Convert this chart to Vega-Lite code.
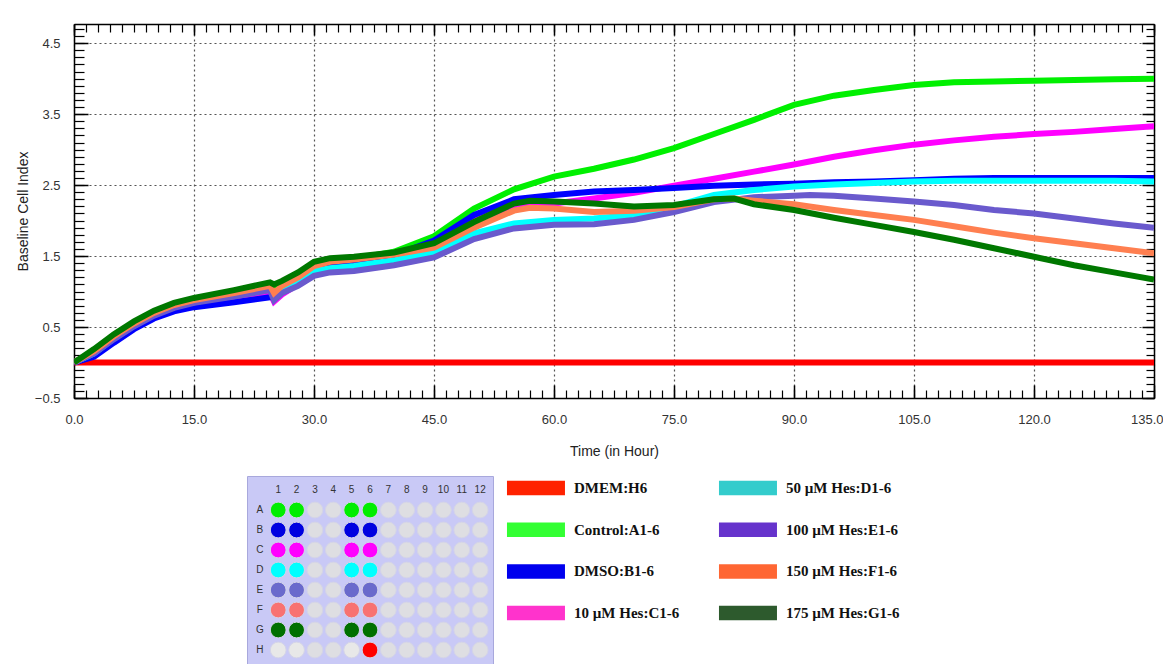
{
  "$schema": "https://vega.github.io/schema/vega-lite/v6.json",
  "background": "white",
  "padding": {"left": 16, "top": 23, "right": 0, "bottom": 0},
  "autosize": {"type": "pad"},
  "config": {"view": {"stroke": null}, "font": "Liberation Sans", "axis": {"labelFont": "Liberation Sans", "titleFont": "Liberation Sans"}},
  "spacing": 17,
  "resolve": {"scale": {"color": "independent"}},
  "vconcat": [
    {
      "width": 1080,
      "height": 374,
      "data": {"values": [
        {"s":"DMEM","t":0,"v":0},{"s":"DMEM","t":45,"v":0},{"s":"DMEM","t":90,"v":0},{"s":"DMEM","t":135,"v":0},
        {"s":"Control","t":0,"v":0},{"s":"Control","t":2.5,"v":0.15},{"s":"Control","t":5,"v":0.36},{"s":"Control","t":7.5,"v":0.54},{"s":"Control","t":10,"v":0.69},{"s":"Control","t":12.5,"v":0.8},{"s":"Control","t":15,"v":0.87},{"s":"Control","t":20,"v":0.97},{"s":"Control","t":24.5,"v":1.07},{"s":"Control","t":25,"v":1.02},{"s":"Control","t":26,"v":1.1},{"s":"Control","t":28,"v":1.22},{"s":"Control","t":30,"v":1.38},{"s":"Control","t":32,"v":1.43},{"s":"Control","t":35,"v":1.46},{"s":"Control","t":40,"v":1.56},{"s":"Control","t":45,"v":1.78},{"s":"Control","t":50,"v":2.17},{"s":"Control","t":55,"v":2.44},{"s":"Control","t":60,"v":2.62},{"s":"Control","t":65,"v":2.73},{"s":"Control","t":70,"v":2.86},{"s":"Control","t":75,"v":3.02},{"s":"Control","t":80,"v":3.22},{"s":"Control","t":85,"v":3.42},{"s":"Control","t":90,"v":3.63},{"s":"Control","t":95,"v":3.76},{"s":"Control","t":100,"v":3.84},{"s":"Control","t":105,"v":3.91},{"s":"Control","t":110,"v":3.95},{"s":"Control","t":115,"v":3.96},{"s":"Control","t":120,"v":3.97},{"s":"Control","t":125,"v":3.98},{"s":"Control","t":130,"v":3.99},{"s":"Control","t":135,"v":4.0},
        {"s":"10","t":0,"v":0},{"s":"10","t":2.5,"v":0.12},{"s":"10","t":5,"v":0.32},{"s":"10","t":7.5,"v":0.5},{"s":"10","t":10,"v":0.65},{"s":"10","t":12.5,"v":0.76},{"s":"10","t":15,"v":0.82},{"s":"10","t":20,"v":0.9},{"s":"10","t":24.5,"v":0.98},{"s":"10","t":25,"v":0.86},{"s":"10","t":26,"v":0.96},{"s":"10","t":28,"v":1.1},{"s":"10","t":30,"v":1.32},{"s":"10","t":32,"v":1.38},{"s":"10","t":35,"v":1.41},{"s":"10","t":40,"v":1.5},{"s":"10","t":45,"v":1.68},{"s":"10","t":50,"v":2.02},{"s":"10","t":55,"v":2.18},{"s":"10","t":60,"v":2.24},{"s":"10","t":65,"v":2.31},{"s":"10","t":70,"v":2.39},{"s":"10","t":75,"v":2.49},{"s":"10","t":80,"v":2.59},{"s":"10","t":85,"v":2.69},{"s":"10","t":90,"v":2.79},{"s":"10","t":95,"v":2.9},{"s":"10","t":100,"v":2.99},{"s":"10","t":105,"v":3.07},{"s":"10","t":110,"v":3.13},{"s":"10","t":115,"v":3.18},{"s":"10","t":120,"v":3.22},{"s":"10","t":125,"v":3.25},{"s":"10","t":130,"v":3.29},{"s":"10","t":135,"v":3.33},
        {"s":"DMSO","t":0,"v":0},{"s":"DMSO","t":2.5,"v":0.08},{"s":"DMSO","t":5,"v":0.28},{"s":"DMSO","t":7.5,"v":0.47},{"s":"DMSO","t":10,"v":0.62},{"s":"DMSO","t":12.5,"v":0.72},{"s":"DMSO","t":15,"v":0.78},{"s":"DMSO","t":20,"v":0.85},{"s":"DMSO","t":24.5,"v":0.92},{"s":"DMSO","t":25,"v":0.93},{"s":"DMSO","t":26,"v":1.0},{"s":"DMSO","t":28,"v":1.12},{"s":"DMSO","t":30,"v":1.33},{"s":"DMSO","t":32,"v":1.38},{"s":"DMSO","t":35,"v":1.42},{"s":"DMSO","t":40,"v":1.51},{"s":"DMSO","t":45,"v":1.72},{"s":"DMSO","t":50,"v":2.08},{"s":"DMSO","t":55,"v":2.3},{"s":"DMSO","t":60,"v":2.36},{"s":"DMSO","t":65,"v":2.41},{"s":"DMSO","t":70,"v":2.43},{"s":"DMSO","t":75,"v":2.46},{"s":"DMSO","t":80,"v":2.49},{"s":"DMSO","t":85,"v":2.51},{"s":"DMSO","t":90,"v":2.52},{"s":"DMSO","t":95,"v":2.54},{"s":"DMSO","t":100,"v":2.55},{"s":"DMSO","t":105,"v":2.57},{"s":"DMSO","t":110,"v":2.59},{"s":"DMSO","t":115,"v":2.6},{"s":"DMSO","t":120,"v":2.6},{"s":"DMSO","t":125,"v":2.6},{"s":"DMSO","t":130,"v":2.6},{"s":"DMSO","t":135,"v":2.6},
        {"s":"50","t":0,"v":0},{"s":"50","t":2.5,"v":0.13},{"s":"50","t":5,"v":0.34},{"s":"50","t":7.5,"v":0.52},{"s":"50","t":10,"v":0.67},{"s":"50","t":12.5,"v":0.78},{"s":"50","t":15,"v":0.85},{"s":"50","t":20,"v":0.95},{"s":"50","t":24.5,"v":1.04},{"s":"50","t":25,"v":0.92},{"s":"50","t":26,"v":1.02},{"s":"50","t":28,"v":1.13},{"s":"50","t":30,"v":1.29},{"s":"50","t":32,"v":1.33},{"s":"50","t":35,"v":1.36},{"s":"50","t":40,"v":1.44},{"s":"50","t":45,"v":1.56},{"s":"50","t":50,"v":1.82},{"s":"50","t":55,"v":1.96},{"s":"50","t":60,"v":2.01},{"s":"50","t":65,"v":2.03},{"s":"50","t":70,"v":2.08},{"s":"50","t":75,"v":2.2},{"s":"50","t":80,"v":2.36},{"s":"50","t":85,"v":2.43},{"s":"50","t":90,"v":2.48},{"s":"50","t":95,"v":2.51},{"s":"50","t":100,"v":2.53},{"s":"50","t":105,"v":2.55},{"s":"50","t":110,"v":2.56},{"s":"50","t":115,"v":2.56},{"s":"50","t":120,"v":2.56},{"s":"50","t":125,"v":2.56},{"s":"50","t":130,"v":2.56},{"s":"50","t":135,"v":2.55},
        {"s":"100","t":0,"v":0},{"s":"100","t":2.5,"v":0.13},{"s":"100","t":5,"v":0.33},{"s":"100","t":7.5,"v":0.51},{"s":"100","t":10,"v":0.66},{"s":"100","t":12.5,"v":0.77},{"s":"100","t":15,"v":0.84},{"s":"100","t":20,"v":0.93},{"s":"100","t":24.5,"v":1.02},{"s":"100","t":25,"v":0.88},{"s":"100","t":26,"v":0.98},{"s":"100","t":28,"v":1.08},{"s":"100","t":30,"v":1.22},{"s":"100","t":32,"v":1.27},{"s":"100","t":35,"v":1.29},{"s":"100","t":40,"v":1.37},{"s":"100","t":45,"v":1.48},{"s":"100","t":50,"v":1.74},{"s":"100","t":55,"v":1.89},{"s":"100","t":60,"v":1.94},{"s":"100","t":65,"v":1.95},{"s":"100","t":70,"v":2.01},{"s":"100","t":75,"v":2.12},{"s":"100","t":80,"v":2.26},{"s":"100","t":85,"v":2.33},{"s":"100","t":90,"v":2.35},{"s":"100","t":92,"v":2.36},{"s":"100","t":95,"v":2.35},{"s":"100","t":100,"v":2.31},{"s":"100","t":105,"v":2.27},{"s":"100","t":110,"v":2.22},{"s":"100","t":115,"v":2.15},{"s":"100","t":120,"v":2.1},{"s":"100","t":125,"v":2.03},{"s":"100","t":130,"v":1.96},{"s":"100","t":135,"v":1.9},
        {"s":"150","t":0,"v":0},{"s":"150","t":2.5,"v":0.16},{"s":"150","t":5,"v":0.37},{"s":"150","t":7.5,"v":0.55},{"s":"150","t":10,"v":0.7},{"s":"150","t":12.5,"v":0.81},{"s":"150","t":15,"v":0.88},{"s":"150","t":20,"v":0.98},{"s":"150","t":24.5,"v":1.08},{"s":"150","t":25,"v":0.98},{"s":"150","t":26,"v":1.08},{"s":"150","t":28,"v":1.2},{"s":"150","t":30,"v":1.36},{"s":"150","t":32,"v":1.42},{"s":"150","t":35,"v":1.45},{"s":"150","t":40,"v":1.52},{"s":"150","t":45,"v":1.62},{"s":"150","t":50,"v":1.9},{"s":"150","t":55,"v":2.14},{"s":"150","t":57,"v":2.18},{"s":"150","t":60,"v":2.17},{"s":"150","t":65,"v":2.12},{"s":"150","t":70,"v":2.14},{"s":"150","t":75,"v":2.19},{"s":"150","t":80,"v":2.3},{"s":"150","t":82.5,"v":2.31},{"s":"150","t":85,"v":2.28},{"s":"150","t":90,"v":2.23},{"s":"150","t":95,"v":2.15},{"s":"150","t":100,"v":2.08},{"s":"150","t":105,"v":2.01},{"s":"150","t":110,"v":1.92},{"s":"150","t":115,"v":1.83},{"s":"150","t":120,"v":1.75},{"s":"150","t":125,"v":1.68},{"s":"150","t":130,"v":1.61},{"s":"150","t":135,"v":1.54},
        {"s":"175","t":0,"v":0},{"s":"175","t":2.5,"v":0.19},{"s":"175","t":5,"v":0.4},{"s":"175","t":7.5,"v":0.58},{"s":"175","t":10,"v":0.73},{"s":"175","t":12.5,"v":0.84},{"s":"175","t":15,"v":0.91},{"s":"175","t":20,"v":1.02},{"s":"175","t":24.5,"v":1.13},{"s":"175","t":25,"v":1.1},{"s":"175","t":26,"v":1.15},{"s":"175","t":28,"v":1.27},{"s":"175","t":30,"v":1.42},{"s":"175","t":32,"v":1.47},{"s":"175","t":35,"v":1.49},{"s":"175","t":40,"v":1.55},{"s":"175","t":45,"v":1.68},{"s":"175","t":50,"v":1.98},{"s":"175","t":55,"v":2.24},{"s":"175","t":57,"v":2.28},{"s":"175","t":60,"v":2.27},{"s":"175","t":65,"v":2.24},{"s":"175","t":70,"v":2.2},{"s":"175","t":75,"v":2.22},{"s":"175","t":80,"v":2.3},{"s":"175","t":82.5,"v":2.31},{"s":"175","t":85,"v":2.23},{"s":"175","t":90,"v":2.15},{"s":"175","t":95,"v":2.04},{"s":"175","t":100,"v":1.94},{"s":"175","t":105,"v":1.84},{"s":"175","t":110,"v":1.73},{"s":"175","t":115,"v":1.61},{"s":"175","t":120,"v":1.49},{"s":"175","t":125,"v":1.37},{"s":"175","t":130,"v":1.27},{"s":"175","t":135,"v":1.17}
      ]},
      "resolve": {"axis": {"x": "independent", "y": "independent"}},
      "layer": [
        {
          "mark": {"type": "line", "strokeWidth": 6, "strokeCap": "butt", "clip": true},
          "encoding": {
            "x": {"field": "t", "type": "quantitative", "scale": {"domain": [0, 135], "nice": false, "zero": false},
              "axis": {"orient": "bottom", "values": [0,15,30,45,60,75,90,105,120,135], "format": ".1f", "title": "Time (in Hour)", "labelFlush": false,
                "labelAlign": {"expr": "datum.value == 135 ? 'right' : 'center'"},
                "labelOffset": {"expr": "datum.value == 135 ? 9 : 0"},
                "tickSize": -13, "tickColor": "black", "tickWidth": 1.5, "domainColor": "black", "domainWidth": 1.5,
                "grid": true, "gridDash": [2, 3], "gridColor": "#555", "gridWidth": 1.2, "labelPadding": 28, "labelFontSize": 13, "labelColor": "#333",
                "titleFontSize": 14, "titleFontWeight": "normal", "titleColor": "#222", "titlePadding": 18}},
            "y": {"field": "v", "type": "quantitative", "scale": {"domain": [-0.5, 4.77], "nice": false, "zero": false},
              "axis": {"orient": "left", "values": [-0.5,0.5,1.5,2.5,3.5,4.5], "format": ".1f", "title": "Baseline Cell Index", "labelFlush": false,
                "tickSize": -14, "tickColor": "black", "tickWidth": 1.5, "domainColor": "black", "domainWidth": 1.5,
                "grid": true, "gridDash": [2, 3], "gridColor": "#555", "gridWidth": 1.2, "labelPadding": 28, "labelFontSize": 13, "labelColor": "#333",
                "titleFontSize": 14, "titleFontWeight": "normal", "titleColor": "#222", "titlePadding": 4}},
            "color": {"field": "s", "type": "nominal", "legend": null,
              "scale": {"domain": ["DMEM","Control","10","DMSO","50","100","150","175"],
                        "range": ["#ff0000","#00f000","#ff00ff","#0000ff","#00ffff","#6a5acd","#ff7f50","#007800"]}}
          }
        },
        {
          "data": {"values": [{"t": 0, "v": 0}]},
          "mark": {"type": "point", "opacity": 0},
          "encoding": {
            "x": {"field": "t", "type": "quantitative",
              "axis": {"orient": "bottom", "values": [0,1.5,3,4.5,6,7.5,9,10.5,12,13.5,15,16.5,18,19.5,21,22.5,24,25.5,27,28.5,30,31.5,33,34.5,36,37.5,39,40.5,42,43.5,45,46.5,48,49.5,51,52.5,54,55.5,57,58.5,60,61.5,63,64.5,66,67.5,69,70.5,72,73.5,75,76.5,78,79.5,81,82.5,84,85.5,87,88.5,90,91.5,93,94.5,96,97.5,99,100.5,102,103.5,105,106.5,108,109.5,111,112.5,114,115.5,117,118.5,120,121.5,123,124.5,126,127.5,129,130.5,132,133.5,135],
                "labels": false, "domain": false, "grid": false, "title": null, "tickSize": -8, "tickColor": "black", "tickWidth": 1.2}},
            "y": {"field": "v", "type": "quantitative",
              "axis": {"orient": "left", "values": [-0.5,-0.4,-0.3,-0.2,-0.1,0,0.1,0.2,0.3,0.4,0.5,0.6,0.7,0.8,0.9,1,1.1,1.2,1.3,1.4,1.5,1.6,1.7,1.8,1.9,2,2.1,2.2,2.3,2.4,2.5,2.6,2.7,2.8,2.9,3,3.1,3.2,3.3,3.4,3.5,3.6,3.7,3.8,3.9,4,4.1,4.2,4.3,4.4,4.5,4.6,4.7],
                "labels": false, "domain": false, "grid": false, "title": null, "tickSize": -10, "tickColor": "black", "tickWidth": 1.2}}
          }
        },
        {
          "data": {"values": [{"t": 0, "v": 0}]},
          "mark": {"type": "point", "opacity": 0},
          "encoding": {
            "x": {"field": "t", "type": "quantitative",
              "axis": {"orient": "top", "values": [0,15,30,45,60,75,90,105,120,135],
                "labels": false, "grid": false, "title": null, "tickSize": -11, "tickColor": "black", "tickWidth": 1.5, "domainColor": "black", "domainWidth": 1.5}},
            "y": {"field": "v", "type": "quantitative",
              "axis": {"orient": "right", "values": [-0.5,0.5,1.5,2.5,3.5,4.5],
                "labels": false, "grid": false, "title": null, "tickSize": -12, "tickColor": "black", "tickWidth": 1.5, "domainColor": "black", "domainWidth": 1.5}}
          }
        },
        {
          "data": {"values": [{"t": 0, "v": 0}]},
          "mark": {"type": "point", "opacity": 0},
          "encoding": {
            "x": {"field": "t", "type": "quantitative",
              "axis": {"orient": "top", "values": [0,1.5,3,4.5,6,7.5,9,10.5,12,13.5,15,16.5,18,19.5,21,22.5,24,25.5,27,28.5,30,31.5,33,34.5,36,37.5,39,40.5,42,43.5,45,46.5,48,49.5,51,52.5,54,55.5,57,58.5,60,61.5,63,64.5,66,67.5,69,70.5,72,73.5,75,76.5,78,79.5,81,82.5,84,85.5,87,88.5,90,91.5,93,94.5,96,97.5,99,100.5,102,103.5,105,106.5,108,109.5,111,112.5,114,115.5,117,118.5,120,121.5,123,124.5,126,127.5,129,130.5,132,133.5,135],
                "labels": false, "domain": false, "grid": false, "title": null, "tickSize": -8, "tickColor": "black", "tickWidth": 1.2}},
            "y": {"field": "v", "type": "quantitative",
              "axis": {"orient": "right", "values": [-0.5,-0.4,-0.3,-0.2,-0.1,0,0.1,0.2,0.3,0.4,0.5,0.6,0.7,0.8,0.9,1,1.1,1.2,1.3,1.4,1.5,1.6,1.7,1.8,1.9,2,2.1,2.2,2.3,2.4,2.5,2.6,2.7,2.8,2.9,3,3.1,3.2,3.3,3.4,3.5,3.6,3.7,3.8,3.9,4,4.1,4.2,4.3,4.4,4.5,4.6,4.7],
                "labels": false, "domain": false, "grid": false, "title": null, "tickSize": -8, "tickColor": "black", "tickWidth": 1.2}}
          }
        }
      ]
    },
    {
      "spacing": 0,
      "resolve": {"scale": {"color": "independent"}},
      "hconcat": [
        {"width": 172, "height": 10, "data": {"values": []}, "mark": "text"},
        {
          "width": 246,
          "height": 188,
          "view": {"fill": "#c9c9f6", "stroke": "#a8a8dc", "strokeWidth": 1},
          "data": {"values": [
            {"r":"hdr","c":"1","lab":"1"},{"r":"hdr","c":"2","lab":"2"},{"r":"hdr","c":"3","lab":"3"},{"r":"hdr","c":"4","lab":"4"},{"r":"hdr","c":"5","lab":"5"},{"r":"hdr","c":"6","lab":"6"},{"r":"hdr","c":"7","lab":"7"},{"r":"hdr","c":"8","lab":"8"},{"r":"hdr","c":"9","lab":"9"},{"r":"hdr","c":"10","lab":"10"},{"r":"hdr","c":"11","lab":"11"},{"r":"hdr","c":"12","lab":"12"},
            {"r":"A","c":"L","lab":"A"},{"r":"B","c":"L","lab":"B"},{"r":"C","c":"L","lab":"C"},{"r":"D","c":"L","lab":"D"},{"r":"E","c":"L","lab":"E"},{"r":"F","c":"L","lab":"F"},{"r":"G","c":"L","lab":"G"},{"r":"H","c":"L","lab":"H"},
            {"r":"A","c":"1","k":"A"},{"r":"A","c":"2","k":"A"},{"r":"A","c":"3","k":"e"},{"r":"A","c":"4","k":"e"},{"r":"A","c":"5","k":"A"},{"r":"A","c":"6","k":"A"},{"r":"A","c":"7","k":"e"},{"r":"A","c":"8","k":"e"},{"r":"A","c":"9","k":"e"},{"r":"A","c":"10","k":"e"},{"r":"A","c":"11","k":"e"},{"r":"A","c":"12","k":"e"},
            {"r":"B","c":"1","k":"B"},{"r":"B","c":"2","k":"B"},{"r":"B","c":"3","k":"e"},{"r":"B","c":"4","k":"e"},{"r":"B","c":"5","k":"B"},{"r":"B","c":"6","k":"B"},{"r":"B","c":"7","k":"e"},{"r":"B","c":"8","k":"e"},{"r":"B","c":"9","k":"e"},{"r":"B","c":"10","k":"e"},{"r":"B","c":"11","k":"e"},{"r":"B","c":"12","k":"e"},
            {"r":"C","c":"1","k":"C"},{"r":"C","c":"2","k":"C"},{"r":"C","c":"3","k":"e"},{"r":"C","c":"4","k":"e"},{"r":"C","c":"5","k":"C"},{"r":"C","c":"6","k":"C"},{"r":"C","c":"7","k":"e"},{"r":"C","c":"8","k":"e"},{"r":"C","c":"9","k":"e"},{"r":"C","c":"10","k":"e"},{"r":"C","c":"11","k":"e"},{"r":"C","c":"12","k":"e"},
            {"r":"D","c":"1","k":"D"},{"r":"D","c":"2","k":"D"},{"r":"D","c":"3","k":"e"},{"r":"D","c":"4","k":"e"},{"r":"D","c":"5","k":"D"},{"r":"D","c":"6","k":"D"},{"r":"D","c":"7","k":"e"},{"r":"D","c":"8","k":"e"},{"r":"D","c":"9","k":"e"},{"r":"D","c":"10","k":"e"},{"r":"D","c":"11","k":"e"},{"r":"D","c":"12","k":"e"},
            {"r":"E","c":"1","k":"E"},{"r":"E","c":"2","k":"E"},{"r":"E","c":"3","k":"e"},{"r":"E","c":"4","k":"e"},{"r":"E","c":"5","k":"E"},{"r":"E","c":"6","k":"E"},{"r":"E","c":"7","k":"e"},{"r":"E","c":"8","k":"e"},{"r":"E","c":"9","k":"e"},{"r":"E","c":"10","k":"e"},{"r":"E","c":"11","k":"e"},{"r":"E","c":"12","k":"e"},
            {"r":"F","c":"1","k":"F"},{"r":"F","c":"2","k":"F"},{"r":"F","c":"3","k":"e"},{"r":"F","c":"4","k":"e"},{"r":"F","c":"5","k":"F"},{"r":"F","c":"6","k":"F"},{"r":"F","c":"7","k":"e"},{"r":"F","c":"8","k":"e"},{"r":"F","c":"9","k":"e"},{"r":"F","c":"10","k":"e"},{"r":"F","c":"11","k":"e"},{"r":"F","c":"12","k":"e"},
            {"r":"G","c":"1","k":"G"},{"r":"G","c":"2","k":"G"},{"r":"G","c":"3","k":"e"},{"r":"G","c":"4","k":"e"},{"r":"G","c":"5","k":"G"},{"r":"G","c":"6","k":"G"},{"r":"G","c":"7","k":"e"},{"r":"G","c":"8","k":"e"},{"r":"G","c":"9","k":"e"},{"r":"G","c":"10","k":"e"},{"r":"G","c":"11","k":"e"},{"r":"G","c":"12","k":"e"},
            {"r":"H","c":"1","k":"u"},{"r":"H","c":"2","k":"u"},{"r":"H","c":"3","k":"e"},{"r":"H","c":"4","k":"e"},{"r":"H","c":"5","k":"u"},{"r":"H","c":"6","k":"H"},{"r":"H","c":"7","k":"e"},{"r":"H","c":"8","k":"e"},{"r":"H","c":"9","k":"e"},{"r":"H","c":"10","k":"e"},{"r":"H","c":"11","k":"e"},{"r":"H","c":"12","k":"e"}
          ]},
          "encoding": {
            "x": {"field": "c", "type": "ordinal", "axis": null,
              "scale": {"type": "point", "padding": 0.7, "domain": ["L","1","2","3","4","5","6","7","8","9","10","11","12"]}},
            "y": {"field": "r", "type": "ordinal", "axis": null,
              "scale": {"type": "point", "padding": 0.7, "domain": ["hdr","A","B","C","D","E","F","G","H"]}}
          },
          "layer": [
            {
              "transform": [{"filter": "datum.k != null"}],
              "mark": {"type": "point", "shape": "circle", "filled": true, "size": 250, "opacity": 1, "stroke": "#d4d4e8", "strokeWidth": 1},
              "encoding": {
                "color": {"field": "k", "type": "nominal", "legend": null,
                  "scale": {"domain": ["A","B","C","D","E","F","G","H","u","e"],
                            "range": ["#00ee00","#0000e0","#ff00ff","#00ffff","#6a6acc","#f87272","#007000","#ff0000","#e8e8e8","#dedee2"]}}
              }
            },
            {
              "transform": [{"filter": "datum.lab != null"}],
              "mark": {"type": "text", "fontSize": 10, "font": "Liberation Sans", "color": "#333"},
              "encoding": {"text": {"field": "lab"}}
            }
          ]
        },
        {
          "width": 424,
          "height": 150,
          "data": {"values": [
            {"name": "DMEM:H6", "col": 0, "row": 0},
            {"name": "Control:A1-6", "col": 0, "row": 1},
            {"name": "DMSO:B1-6", "col": 0, "row": 2},
            {"name": "10 µM Hes:C1-6", "col": 0, "row": 3},
            {"name": "50 µM Hes:D1-6", "col": 1, "row": 0},
            {"name": "100 µM Hes:E1-6", "col": 1, "row": 1},
            {"name": "150 µM Hes:F1-6", "col": 1, "row": 2},
            {"name": "175 µM Hes:G1-6", "col": 1, "row": 3}
          ]},
          "encoding": {
            "x": {"field": "col", "type": "quantitative", "axis": null, "scale": {"domain": [-0.198, 1.802], "nice": false, "zero": false}},
            "y": {"field": "row", "type": "quantitative", "axis": null, "scale": {"domain": [-0.29, 3.31], "nice": false, "zero": false, "reverse": true}}
          },
          "layer": [
            {
              "mark": {"type": "point", "filled": true, "opacity": 1, "size": 3364, "shape": "M-1,-0.25L1,-0.25L1,0.25L-1,0.25Z"},
              "encoding": {
                "color": {"field": "name", "type": "nominal", "legend": null,
                  "scale": {"domain": ["DMEM:H6","Control:A1-6","DMSO:B1-6","10 µM Hes:C1-6","50 µM Hes:D1-6","100 µM Hes:E1-6","150 µM Hes:F1-6","175 µM Hes:G1-6"],
                            "range": ["#ff2200","#33ff33","#0000ee","#ff33cc","#33cccc","#6633cc","#ff6633","#2d5a2d"]}}
              }
            },
            {
              "mark": {"type": "text", "align": "left", "baseline": "middle", "dx": 38, "font": "Liberation Serif", "fontWeight": "bold", "fontSize": 15, "color": "#111"},
              "encoding": {"text": {"field": "name"}}
            }
          ]
        }
      ]
    }
  ]
}
